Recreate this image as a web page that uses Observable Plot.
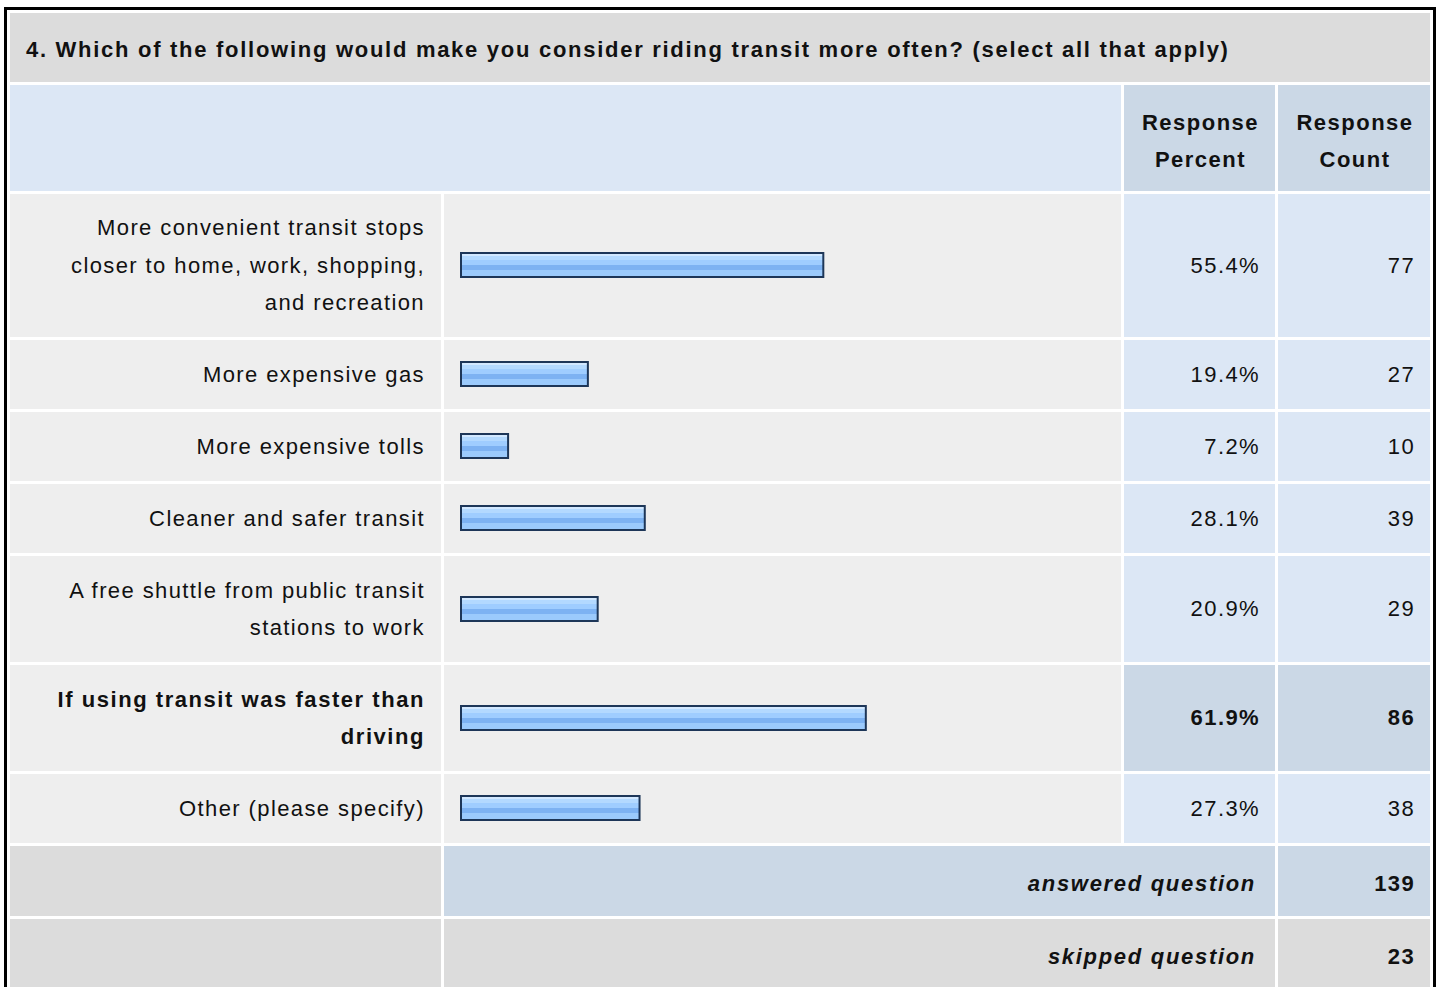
<!DOCTYPE html>
<html>
<head>
<meta charset="utf-8">
<script src="https://cdn.jsdelivr.net/npm/d3@7"></script>
<script src="https://cdn.jsdelivr.net/npm/@observablehq/plot@0.6"></script>
<style>
  html, body { margin: 0; padding: 0; background: #fff; overflow: hidden; }
  body { width: 1440px; height: 987px; position: relative; }
  table.survey {
    position: absolute; left: 4px; top: 7px;
    border: 3px solid #000; border-collapse: separate; border-spacing: 3px;
    table-layout: fixed; width: 1431px;
    font-family: "Liberation Sans", Arial, sans-serif; font-size: 22px; color: #111;
    letter-spacing: 1.4px;
  }
  td { padding: 0 15px 0 16px; line-height: 37.5px; vertical-align: middle; box-sizing: border-box; }
  tr.h1 td { height: 69px; }
  tr.h2 td { height: 106px; }
  tr.h3 td { height: 143px; }
  td.title { background: #dcdcdc; font-weight: bold; font-size: 22px; letter-spacing: 1.72px; padding: 5px 10px 0 16px; text-align: left; white-space: nowrap; }
  td.hdr-blank { background: #dce7f5; }
  td.hdr { background: #cbd8e6; font-weight: bold; text-align: center; letter-spacing: 1.5px; padding: 6px 2px 0 4px; }
  td.label { background: #eeeeee; text-align: right; white-space: pre-line; padding-right: 16px; }
  td.bar { background: #eeeeee; padding: 0; }
  td.num { background: #dce7f5; text-align: right; }
  tr.top td.label { font-weight: bold; letter-spacing: 1.55px; }
  tr.top td.num { background: #cbd8e6; font-weight: bold; }
  td.sum-blank { background: #dcdcdc; }
  td.sum-label { text-align: right; font-weight: bold; font-style: italic; padding: 6px 19px 0 16px; letter-spacing: 1.7px; }
  td.sum-num { text-align: right; font-weight: bold; padding-top: 6px; }
  tr.answered td { height: 70px; }
  tr.answered td.sum-label, tr.answered td.sum-num { background: #cbd8e6; }
  tr.skipped td.sum-label, tr.skipped td.sum-num { background: #dcdcdc; }
  td.bar svg { display: block; }
</style>
</head>
<body>
<script>
// ---- Data ----
const title = "4. Which of the following would make you consider riding transit more often? (select all that apply)";
const headers = ["Response\nPercent", "Response\nCount"];
const categories = [
  "More convenient transit stops\ncloser to home, work, shopping,\nand recreation",
  "More expensive gas",
  "More expensive tolls",
  "Cleaner and safer transit",
  "A free shuttle from public transit\nstations to work",
  "If using transit was faster than\ndriving",
  "Other (please specify)"
];
const percents = [55.4, 19.4, 7.2, 28.1, 20.9, 61.9, 27.3];
const counts = [77, 27, 10, 39, 29, 86, 38];
const summaryLabels = ["answered question", "skipped question"];
const summaryValues = [139, 23];

// ---- Build table ----
const table = document.createElement("table");
table.className = "survey";
const colgroup = document.createElement("colgroup");
[431, 677, 151, 152].forEach(w => {
  const c = document.createElement("col"); c.style.width = w + "px"; colgroup.appendChild(c);
});
table.appendChild(colgroup);

function td(cls, text, attrs = {}) {
  const c = document.createElement("td");
  c.className = cls;
  if (text != null) {
    if (cls.includes("hdr")) c.innerHTML = text.split("\n").join("<br>");
    else c.textContent = text;
  }
  Object.entries(attrs).forEach(([k, v]) => c.setAttribute(k, v));
  return c;
}

let tr = document.createElement("tr");
tr.className = "h1";
tr.appendChild(td("title", title, {colspan: 4}));
table.appendChild(tr);

tr = document.createElement("tr");
tr.className = "h2";
tr.appendChild(td("hdr-blank", null, {colspan: 2}));
headers.forEach(h => tr.appendChild(td("hdr", h)));
table.appendChild(tr);

const maxPct = d3.max(percents);

categories.forEach((cat, i) => {
  const row = document.createElement("tr");
  const lines = cat.split("\n").length;
  row.className = "h" + lines + (percents[i] === maxPct ? " top" : "");
  row.appendChild(td("label", cat));
  const barCell = td("bar", null);
  const data = [{category: cat, percent: percents[i]}];
  const plot = Plot.plot({
    width: 677,
    height: 27,
    marginLeft: 17,
    marginRight: 6,
    marginTop: 1,
    marginBottom: 2,
    x: {domain: [0, 100], axis: null},
    y: {axis: null},
    style: {background: "transparent", overflow: "visible"},
    marks: [
      Plot.barX(data, {x: "percent", fill: `url(#barGrad${i})`, stroke: "#1d3658", strokeWidth: 2, inset: 0})
    ]
  });
  // gradient definition for the bevelled bar look
  const svg = d3.select(plot);
  const grad = svg.insert("defs", ":first-child").append("linearGradient")
    .attr("id", `barGrad${i}`).attr("x1", 0).attr("y1", 0).attr("x2", 0).attr("y2", 1);
  [["0%", "#d2e8ff"], ["14%", "#d2e8ff"], ["14%", "#b3d9ff"], ["28%", "#b3d9ff"], ["28%", "#9fcdff"],
   ["52%", "#9fcdff"], ["52%", "#7db2f2"], ["72%", "#7db2f2"], ["72%", "#9bcafc"], ["100%", "#9bcafc"]]
    .forEach(([o, c]) => grad.append("stop").attr("offset", o).attr("stop-color", c));
  barCell.appendChild(plot);
  row.appendChild(barCell);
  row.appendChild(td("num", percents[i].toFixed(1) + "%"));
  row.appendChild(td("num", String(counts[i])));
  table.appendChild(row);
});

summaryLabels.forEach((lab, i) => {
  const row = document.createElement("tr");
  row.className = i === 0 ? "answered" : "skipped h1";
  row.appendChild(td("sum-blank", null));
  row.appendChild(td("sum-label", lab, {colspan: 2}));
  row.appendChild(td("sum-num", String(summaryValues[i])));
  table.appendChild(row);
});

document.body.appendChild(table);
</script>
</body>
</html>
